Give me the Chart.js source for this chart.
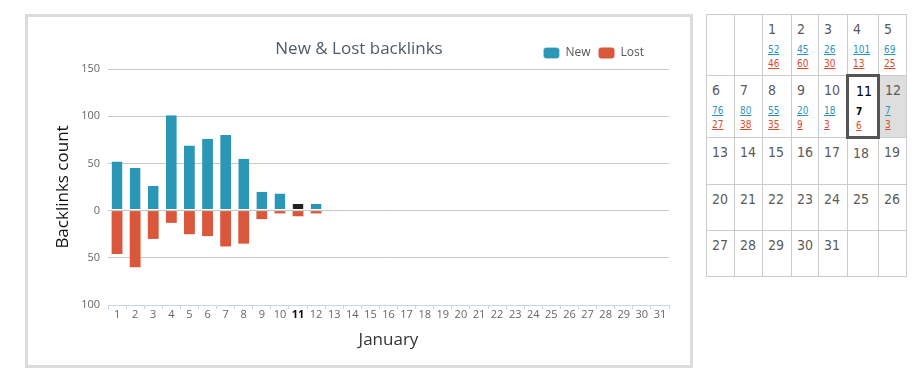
<!DOCTYPE html>
<html>
<head>
<meta charset="utf-8">
<script src="https://cdn.jsdelivr.net/npm/chart.js@4"></script>
<style>
  body { margin: 0; background: #fff; font-family: "Open Sans", sans-serif; }
  #box { position: absolute; left: 25px; top: 14px; width: 668px; height: 354px;
         border: 3px solid #dcdcdc; box-sizing: border-box; }
  #box canvas { display: block; }
  #cal { position: absolute; left: 706px; top: 14px; border-collapse: collapse;
         table-layout: fixed; font-family: "DejaVu Sans Condensed", "DejaVu Sans", sans-serif; }
  #cal td { border: 1px solid #ccc; vertical-align: top; padding: 2px 0 0 5px; color: #5a5a5a; }
  #cal .day { font-size: 14px; line-height: 24px; }
  #cal .nums { margin-top: 2px; font-size: 10px; line-height: 14px; }
  #cal .n { color: #2b95c0; text-decoration: underline; display: block; }
  #cal .l { color: #e04a2a; text-decoration: underline; display: block; }
  #cal td.sel { border: 3px solid #555; padding-left: 7px; }
  #cal td.sel .day { color: #000; }
  #cal td.sel .n { color: #000; font-weight: bold; text-decoration: none; }
  #cal td.next { background: #dedede; }
</style>
</head>
<body>
<div id="box"><canvas id="backlinks-chart" width="662" height="348"></canvas></div>
<table id="cal"></table>
<script>
const days = ['1','2','3','4','5','6','7','8','9','10','11','12','13','14','15','16',
  '17','18','19','20','21','22','23','24','25','26','27','28','29','30','31'];
const newLinks = [52, 45, 26, 101, 69, 76, 80, 55, 20, 18, 7, 7];
const lostLinks = [46, 60, 30, 13, 25, 27, 38, 35, 9, 3, 6, 3];
const yTicks = [-100, -50, 0, 50, 100, 150];
const selectedDay = 11;

const TEAL = '#2997b5';
const RED = '#d9573a';

// shifts the legend left, it sits a bit in from the right edge in the original
const legendShift = {
  id: 'legendShift',
  afterLayout(chart) {
    chart.legend.left -= 38;
    chart.legend.right -= 38;
  }
};

new Chart(document.getElementById('backlinks-chart'), {
  type: 'bar',
  data: {
    labels: days,
    datasets: [
      {
        label: 'New',
        data: newLinks,
        backgroundColor: (ctx) => ctx.dataIndex === selectedDay - 1 ? '#222' : TEAL,
        borderColor: '#fff',
        borderWidth: { top: 0, left: 0, right: 0, bottom: 1 },
        borderSkipped: false
      },
      {
        label: 'Lost',
        data: lostLinks.map(v => -v),
        backgroundColor: RED,
        borderWidth: 0
      }
    ]
  },
  plugins: [legendShift],
  options: {
    responsive: false,
    animation: false,
    events: [],
    layout: { padding: 0 },
    datasets: { bar: { categoryPercentage: 1, barPercentage: 0.6 } },
    plugins: {
      title: {
        display: true,
        text: 'New & Lost backlinks',
        color: '#4f5b66',
        font: { family: 'Open Sans', size: 17, weight: 'normal' },
        padding: { top: 22, bottom: -20.4 }
      },
      legend: {
        position: 'top',
        align: 'end',
        labels: {
          boxWidth: 16,
          boxHeight: 11,
          useBorderRadius: true,
          borderRadius: 3,
          padding: 8,
          color: '#555',
          font: { family: 'Open Sans', size: 12 }
        }
      },
      tooltip: { enabled: false }
    },
    scales: {
      x: {
        stacked: true,
        offset: true,
        grid: {
          offset: true,
          drawOnChartArea: false,
          tickLength: 4,
          color: '#c6d6e6'
        },
        border: { color: '#c6d6e6' },
        ticks: {
          autoSkip: false,
          maxRotation: 0,
          padding: -1,
          color: (ctx) => ctx.index === selectedDay - 1 ? '#111' : '#666',
          font: (ctx) => ({ family: 'Open Sans', size: 11,
            weight: ctx.index === selectedDay - 1 ? 'bold' : 'normal' })
        },
        title: {
          display: true,
          text: 'January',
          color: '#333',
          font: { family: 'Open Sans', size: 17 },
          padding: { top: 0, bottom: 14.4 }
        },
        afterFit(scale) { scale.height = 60; }
      },
      y: {
        stacked: true,
        min: -100,
        max: 150,
        afterBuildTicks(scale) { scale.ticks = yTicks.map(v => ({ value: v })); },
        grid: {
          drawTicks: false,
          color: (ctx) => ctx.tick && ctx.tick.value === -100 ? 'rgba(0,0,0,0)' : '#c8c8c8'
        },
        border: { display: false },
        ticks: {
          padding: 8,
          color: '#666',
          font: { family: 'Open Sans', size: 11 },
          callback: (v) => Math.abs(v)
        },
        title: {
          display: true,
          text: 'Backlinks count',
          color: '#111',
          font: { family: 'Open Sans', size: 17 },
          padding: { top: 25.4, bottom: 0 }
        },
        afterFit(scale) { scale.width = 80; }
      },
      spacer: {
        position: 'right',
        grid: { display: false },
        border: { display: false },
        ticks: { display: false },
        afterFit(scale) { scale.width = 21; }
      }
    }
  }
});

// calendar next to the chart, January starts on the third column
const colWidths = [28, 28, 29, 27, 29, 31, 28];
const rowHeights = [61, 62, 47, 46, 46];
const firstCol = 2;
const cal = document.getElementById('cal');
const colgroup = document.createElement('colgroup');
colWidths.forEach(w => {
  const c = document.createElement('col');
  c.style.width = w + 'px';
  colgroup.appendChild(c);
});
cal.appendChild(colgroup);
let day = 1 - firstCol;
rowHeights.forEach(h => {
  const tr = document.createElement('tr');
  tr.style.height = h + 'px';
  for (let c = 0; c < 7; c++, day++) {
    const td = document.createElement('td');
    if (day >= 1 && day <= days.length) {
      let html = '<div class="day">' + days[day - 1] + '</div>';
      if (day <= newLinks.length) {
        html += '<div class="nums"><span class="n">' + newLinks[day - 1] +
          '</span><span class="l">' + lostLinks[day - 1] + '</span></div>';
      }
      td.innerHTML = html;
      if (day === selectedDay) td.className = 'sel';
      if (day === selectedDay + 1) td.className = 'next';
    }
    tr.appendChild(td);
  }
  cal.appendChild(tr);
});
</script>
</body>
</html>
